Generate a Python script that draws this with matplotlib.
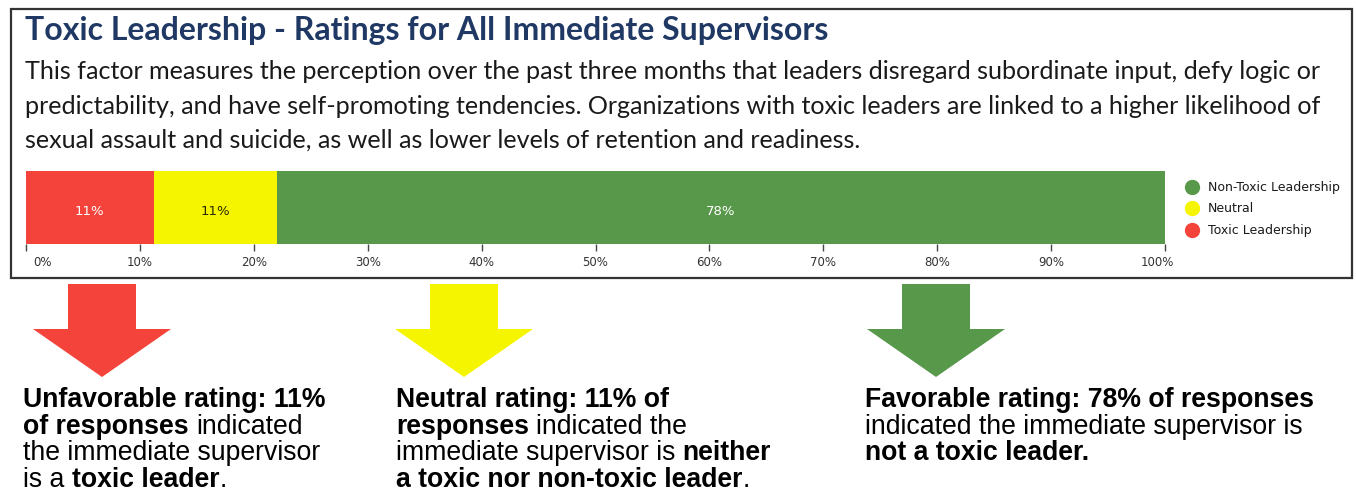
import matplotlib
matplotlib.use('Agg')
import matplotlib.pyplot as plt
import matplotlib.font_manager as fm
from matplotlib.lines import Line2D
from matplotlib.patches import Polygon, Rectangle
from matplotlib.transforms import ScaledTranslation

# ---- data ----
categories = ['Toxic Leadership', 'Neutral', 'Non-Toxic Leadership']
shares = [11.2, 10.8, 78.0]
bar_colors = ['#F4433B', '#F5F500', '#58984A']
value_colors = ['white', '#2a2a00', 'white']
xticks = [0, 10, 20, 30, 40, 50, 60, 70, 80, 90, 100]
xtick_labels = ['%d%%' % t for t in xticks]

title = 'Toxic Leadership - Ratings for All Immediate Supervisors'
paragraph = [
    'This factor measures the perception over the past three months that leaders disregard subordinate input, defy logic or',
    'predictability, and have self-promoting tendencies. Organizations with toxic leaders are linked to a higher likelihood of',
    'sexual assault and suicide, as well as lower levels of retention and readiness.',
]

# (text, bold) runs, one list per line
notes = [
    [[('Unfavorable rating: 11%', True)],
     [('of responses', True), (' indicated', False)],
     [('the immediate supervisor', False)],
     [('is a ', False), ('toxic leader', True), ('.', False)]],
    [[('Neutral rating: 11% of', True)],
     [('responses', True), (' indicated the', False)],
     [('immediate supervisor is ', False), ('neither', True)],
     [('a toxic nor non-toxic leader', True), ('.', False)]],
    [[('Favorable rating: 78% of responses', True)],
     [('indicated the immediate supervisor is', False)],
     [('not a toxic leader.', True)]],
]

W, H = 1356, 499


def pick(names):
    for n in names:
        try:
            fm.findfont(fm.FontProperties(family=n), fallback_to_default=False)
            return n
        except ValueError:
            pass
    return 'DejaVu Sans'


head_font = pick(['Lato', 'Open Sans'])
note_font = pick(['Liberation Sans Narrow', 'Liberation Sans'])
small_font = 'DejaVu Sans'

fig = plt.figure(figsize=(W / 100, H / 100), dpi=100)
fig.patch.set_facecolor('white')
canvas = fig.add_axes([0, 0, 1, 1])
canvas.set_xlim(0, W)
canvas.set_ylim(H, 0)
canvas.axis('off')
renderer = fig.canvas.get_renderer()


def width(s, **kw):
    t = canvas.text(0, 0, s, **kw)
    w = t.get_window_extent(renderer).width
    t.remove()
    return w


def fit(s, target, **kw):
    return 20 * target / width(s, fontsize=20, **kw)


def draw_runs(x, y, runs, size, family, color):
    for s, bold in runs:
        kw = dict(fontsize=size, family=family, fontweight='bold' if bold else 'normal')
        sp = width('x x', **kw) - width('xx', **kw)
        core = s.strip()
        x += (len(s) - len(s.lstrip())) * sp
        canvas.text(x, y, core, va='baseline', ha='left', color=color, **kw)
        x += width(core, **kw) + (len(s) - len(s.rstrip())) * sp


# ---- header ----
ts = fit(title, 803, family=head_font, fontweight='bold')
canvas.text(25, 40, title, fontsize=ts, family=head_font, fontweight='bold',
            color='#1f3864', va='baseline')
ps = fit(paragraph[0], 1305, family=head_font)
for i, line in enumerate(paragraph):
    canvas.text(25, 79 + i * 34.5, line, fontsize=ps, family=head_font,
                color='#1a1a1a', va='baseline')

canvas.add_patch(Rectangle((11, 9), 1341, 269, fill=False, ec='#333333', lw=1.6))

# ---- stacked bar ----
ax = fig.add_axes([26 / W, 1 - 244 / H, (1165 - 26) / W, 73 / H])
left = 0
for cat, v, c, lc in zip(categories, shares, bar_colors, value_colors):
    ax.barh(0, v, left=left, height=1, color=c, label=cat)
    ax.text(left + v / 2, -0.05, '%d%%' % round(v), ha='center', va='center',
            color=lc, fontsize=9.5, family=small_font)
    left += v
ax.set_xlim(0, 100)
ax.set_ylim(-0.5, 0.5)
ax.set_yticks([])
ax.set_xticks(xticks)
ax.set_xticklabels(xtick_labels, family=small_font)
ax.tick_params(axis='x', length=5, width=1, color='#444444', pad=4,
               labelsize=8.5, labelcolor='#333333')
for sp in ax.spines.values():
    sp.set_visible(False)
labs = ax.get_xticklabels()
labs[0].set_transform(labs[0].get_transform() + ScaledTranslation(16 / 100, 0, fig.dpi_scale_trans))
labs[-1].set_transform(labs[-1].get_transform() + ScaledTranslation(-8 / 100, 0, fig.dpi_scale_trans))

handles = [Line2D([], [], marker='o', ls='', ms=10, color=c, label=cat)
           for cat, c in zip(categories, bar_colors)][::-1]
fig.legend(handles=handles, loc='upper left', bbox_to_anchor=(1186 / W, 1 - 181 / H),
           frameon=False, prop={'family': small_font, 'size': 9},
           handlelength=1.0, handletextpad=0.75, labelspacing=0.68,
           borderpad=0, borderaxespad=0, labelcolor='#1a1a1a')

# ---- arrows and notes ----
arrow_x = [102, 464, 936]
note_x = [23, 396, 865]
top, base, tip, sw, hw = 284, 329, 377, 68, 138
for cx, c in zip(arrow_x, bar_colors):
    pts = [(cx - sw / 2, top), (cx + sw / 2, top), (cx + sw / 2, base), (cx + hw / 2, base),
           (cx, tip), (cx - hw / 2, base), (cx - sw / 2, base)]
    canvas.add_patch(Polygon(pts, closed=True, fc=c, ec='none'))

ns = fit(notes[0][0][0][0], 302, family=note_font, fontweight='bold')
for x0, block in zip(note_x, notes):
    for j, runs in enumerate(block):
        draw_runs(x0, 407 + j * 26.7, runs, ns, note_font, 'black')

fig.savefig('out.png', dpi=100, facecolor='white')
